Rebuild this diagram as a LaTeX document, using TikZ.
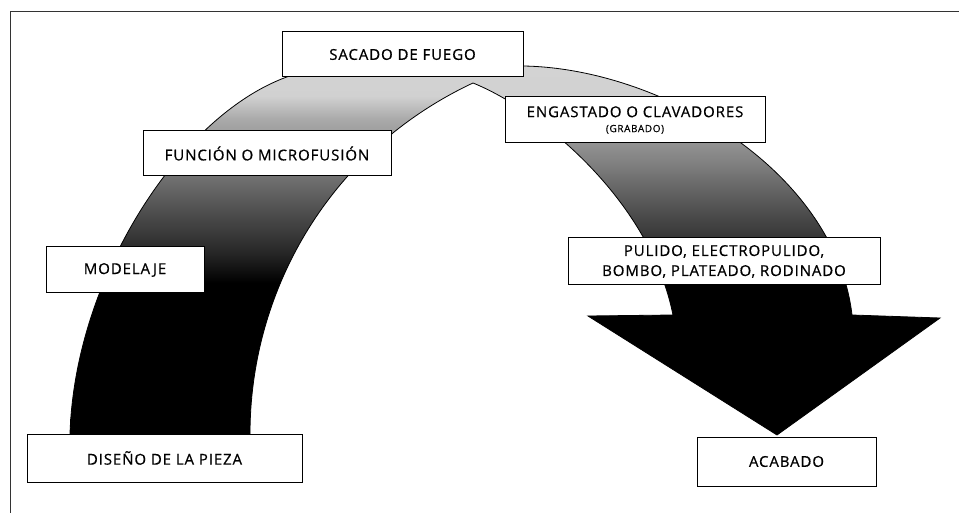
\documentclass[tikz,border=0pt]{standalone}
\usepackage{fontspec}
\setmainfont{Open Sans}[LetterSpace=6, FakeBold=0.6]
\pgfdeclareverticalshading{archshade}{100bp}{color(0bp)=(black); color(46bp)=(black); color(50bp)=(black!85); color(57bp)=(black!65); color(62bp)=(black!50); color(68bp)=(black!33); color(71bp)=(black!18); color(100bp)=(black!12)}
\begin{document}
\begin{tikzpicture}[x=1pt,y=-1pt,
  stagebox/.style={draw=black, fill=white, line width=1pt, inner sep=0pt, align=center, font=\fontsize{15}{20}\selectfont},
  frameline/.style={line width=1pt, black!80}]
\useasboundingbox (0,0) rectangle (959,513);
% frame
\draw[frameline] (10,513) -- (10,12) -- (959,12);
% arch band with arrow
\shade[shading=archshade, draw=black, line width=0.8pt]
  (70,440) -- (70,434) .. controls (75,270) and (190,100) .. (303,72)
  -- (523,66) .. controls (660,68) and (835,170) .. (852,315)
  -- (940,318) -- (777,435) -- (588,316) -- (673,315)
  .. controls (650,200) and (540,110) .. (473,83)
  .. controls (330,150) and (250,290) .. (250,434) -- (250,440) -- cycle;
% stage boxes
\node[stagebox, minimum width=241pt, minimum height=45pt] (sacado) at (402.5,54.5) {SACADO DE FUEGO};
\node[stagebox, minimum width=248pt, minimum height=45pt] (funcion) at (267,153.5) {FUNCIÓN O MICROFUSIÓN};
\node[stagebox, minimum width=260pt, minimum height=46pt] (engastado) at (635,120) {ENGASTADO O CLAVADORES\\[-5pt]{\fontsize{10}{12}\selectfont (GRABADO)}};
\node[stagebox, minimum width=312pt, minimum height=47pt] (pulido) at (724,261.5) {PULIDO, ELECTROPULIDO,\\BOMBO, PLATEADO, RODINADO};
\node[stagebox, minimum width=158pt, minimum height=46pt] (modelaje) at (125,270) {MODELAJE};
\node[stagebox, minimum width=275pt, minimum height=48pt] (diseno) at (164.5,458) {DISEÑO DE LA PIEZA};
\node[stagebox, minimum width=179pt, minimum height=49pt] (acabado) at (786.5,461.5) {ACABADO};
\end{tikzpicture}
\end{document}
